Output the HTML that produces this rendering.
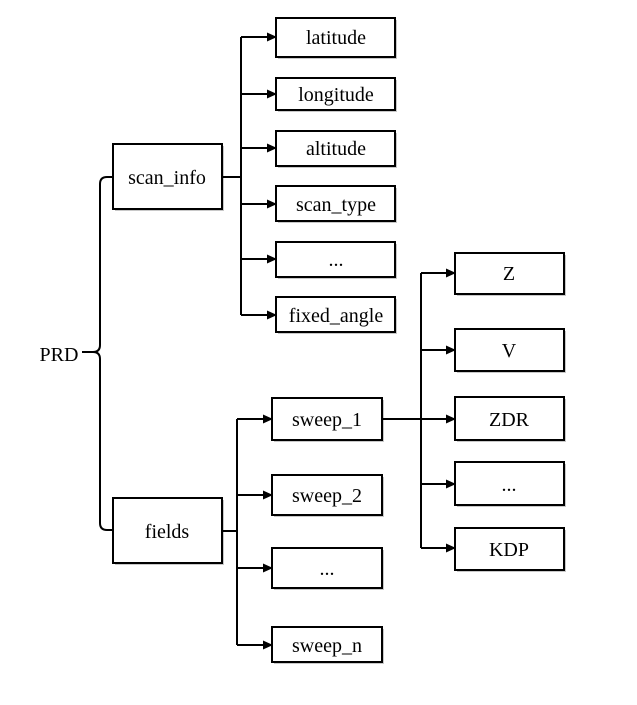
<!DOCTYPE html>
<html><head><meta charset="utf-8"><style>
html,body{margin:0;padding:0;background:#fff;}
svg{display:block;}
text{font-family:"Liberation Serif",serif;font-size:20px;fill:#000;}
</style></head><body>
<svg width="637" height="705" viewBox="0 0 637 705" xmlns="http://www.w3.org/2000/svg">
<defs>
<marker id="a" markerWidth="10" markerHeight="10" refX="9" refY="5" orient="auto" markerUnits="userSpaceOnUse">
<path d="M0,0.5 L10,5 L0,9.5 z" fill="#000"/>
</marker>
</defs>
<g fill="#c8c8c8">
<rect x="115" y="146" width="109" height="65"/>
<rect x="115" y="500" width="109" height="65"/>
<rect x="278" y="20" width="119" height="39"/>
<rect x="278" y="80" width="119" height="32"/>
<rect x="278" y="133" width="119" height="35"/>
<rect x="278" y="188" width="119" height="35"/>
<rect x="278" y="244" width="119" height="35"/>
<rect x="278" y="299" width="119" height="35"/>
<rect x="274" y="400" width="110" height="42"/>
<rect x="274" y="477" width="110" height="40"/>
<rect x="274" y="550" width="110" height="40"/>
<rect x="274" y="629" width="110" height="35"/>
<rect x="457" y="255" width="109" height="41"/>
<rect x="457" y="331" width="109" height="42"/>
<rect x="457" y="399" width="109" height="43"/>
<rect x="457" y="464" width="109" height="43"/>
<rect x="457" y="530" width="109" height="42"/>
</g>
<g fill="#fff" stroke="#000" stroke-width="2">
<rect x="113" y="144" width="109" height="65"/>
<rect x="113" y="498" width="109" height="65"/>
<rect x="276" y="18" width="119" height="39"/>
<rect x="276" y="78" width="119" height="32"/>
<rect x="276" y="131" width="119" height="35"/>
<rect x="276" y="186" width="119" height="35"/>
<rect x="276" y="242" width="119" height="35"/>
<rect x="276" y="297" width="119" height="35"/>
<rect x="272" y="398" width="110" height="42"/>
<rect x="272" y="475" width="110" height="40"/>
<rect x="272" y="548" width="110" height="40"/>
<rect x="272" y="627" width="110" height="35"/>
<rect x="455" y="253" width="109" height="41"/>
<rect x="455" y="329" width="109" height="42"/>
<rect x="455" y="397" width="109" height="43"/>
<rect x="455" y="462" width="109" height="43"/>
<rect x="455" y="528" width="109" height="42"/>
</g>
<g fill="none" stroke="#000" stroke-width="2">
<!-- brace -->
<path d="M113,177 L107,177 Q100,177 100,184 L100,345 Q100,352 93,352 L82,352 M93,352 Q100,352 100,359 L100,523 Q100,530 107,530 L113,530"/>
<!-- scan_info tree -->
<path d="M222,177 L241,177 M241,37 L241,315"/>
<path d="M241,37 L276,37" marker-end="url(#a)"/>
<path d="M241,94 L276,94" marker-end="url(#a)"/>
<path d="M241,148 L276,148" marker-end="url(#a)"/>
<path d="M241,204 L276,204" marker-end="url(#a)"/>
<path d="M241,259 L276,259" marker-end="url(#a)"/>
<path d="M241,315 L276,315" marker-end="url(#a)"/>
<!-- fields tree -->
<path d="M222,531 L237,531 M237,419 L237,645"/>
<path d="M237,419 L272,419" marker-end="url(#a)"/>
<path d="M237,495 L272,495" marker-end="url(#a)"/>
<path d="M237,568 L272,568" marker-end="url(#a)"/>
<path d="M237,645 L272,645" marker-end="url(#a)"/>
<!-- sweep_1 tree -->
<path d="M382,419 L421,419 M421,273 L421,548"/>
<path d="M421,273 L455,273" marker-end="url(#a)"/>
<path d="M421,350 L455,350" marker-end="url(#a)"/>
<path d="M421,419 L455,419" marker-end="url(#a)"/>
<path d="M421,484 L455,484" marker-end="url(#a)"/>
<path d="M421,548 L455,548" marker-end="url(#a)"/>
</g>
<g text-anchor="middle">
<text x="59" y="361">PRD</text>
<text x="167" y="184">scan_info</text>
<text x="167" y="538">fields</text>
<text x="336" y="44">latitude</text>
<text x="336" y="101">longitude</text>
<text x="336" y="155">altitude</text>
<text x="336" y="211">scan_type</text>
<text x="336" y="266">...</text>
<text x="336" y="322">fixed_angle</text>
<text x="327" y="426">sweep_1</text>
<text x="327" y="502">sweep_2</text>
<text x="327" y="575">...</text>
<text x="327" y="652">sweep_n</text>
<text x="509" y="280">Z</text>
<text x="509" y="357">V</text>
<text x="509" y="426">ZDR</text>
<text x="509" y="491">...</text>
<text x="509" y="556">KDP</text>
</g>
</svg>
</body></html>
